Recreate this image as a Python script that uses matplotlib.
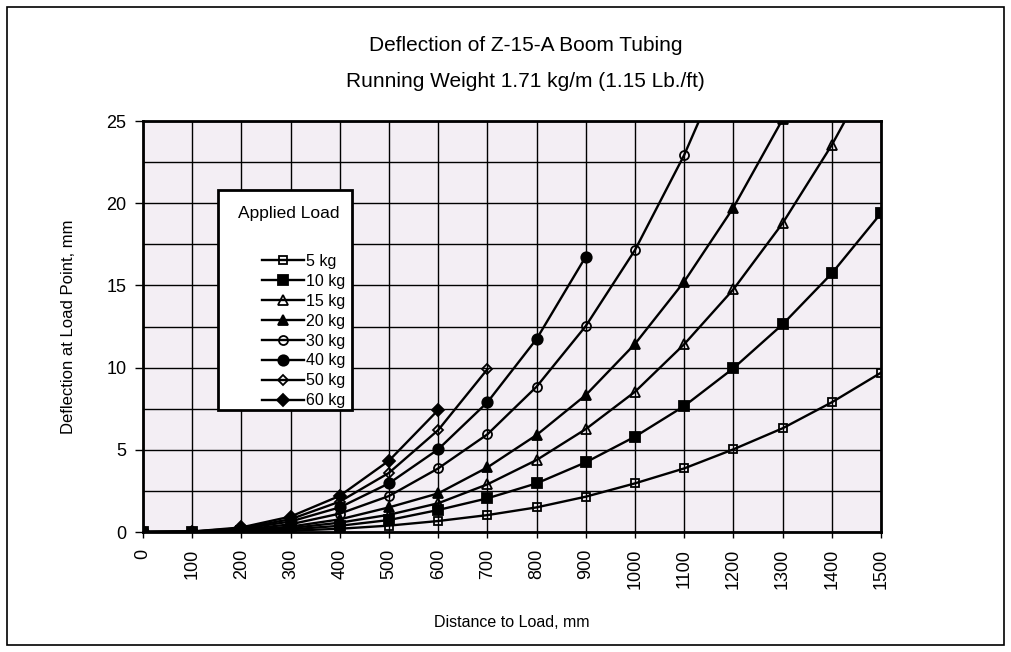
import matplotlib.pyplot as plt
import numpy as np
from matplotlib.patches import Rectangle

plt.rcParams['font.family'] = ['Liberation Sans', 'DejaVu Sans']

# Distancia (mm) e deflexao (mm) para cada carga
dist = [0, 100, 200, 300, 400, 500, 600, 700, 800, 900, 1000, 1100, 1200, 1300, 1400, 1500]

d_5kg = [0, 0.00, 0.02, 0.08, 0.20, 0.39, 0.67, 1.03, 1.50, 2.15, 2.96, 3.87, 5.03, 6.31, 7.89, 9.69]
d_10kg = [0, 0.01, 0.05, 0.16, 0.38, 0.73, 1.34, 2.05, 2.96, 4.24, 5.80, 7.66, 9.96, 12.63, 15.73, 19.39]
d_15kg = [0, 0.01, 0.07, 0.24, 0.57, 1.05, 1.75, 2.90, 4.38, 6.26, 8.53, 11.42, 14.76, 18.78, 23.54, 29.0]
d_20kg = [0, 0.01, 0.10, 0.33, 0.77, 1.50, 2.35, 3.93, 5.90, 8.33, 11.44, 15.23, 19.73, 25.1, 31.3]
d_30kg = [0, 0.02, 0.14, 0.47, 1.12, 2.19, 3.87, 5.94, 8.84, 12.53, 17.15, 22.93, 29.8]
d_40kg = [0, 0.02, 0.19, 0.64, 1.50, 2.96, 5.03, 7.89, 11.74, 16.75]
d_50kg = [0, 0.03, 0.23, 0.78, 1.85, 3.60, 6.20, 9.90]
d_60kg = [0, 0.03, 0.28, 0.94, 2.20, 4.34, 7.42]

labels = ['5 kg', '10 kg', '15 kg', '20 kg', '30 kg', '40 kg', '50 kg', '60 kg']
series = [d_5kg, d_10kg, d_15kg, d_20kg, d_30kg, d_40kg, d_50kg, d_60kg]
markers = ['s', 's', '^', '^', 'o', 'o', 'D', 'D']
filled = [False, True, False, True, False, True, False, True]
msizes = [6, 6.5, 7, 7.5, 6.5, 7.5, 5.5, 6.5]

fig = plt.figure(figsize=(10.11, 6.52), dpi=100)
ax = fig.add_axes([0.1414, 0.1840, 0.7300, 0.6304])
ax.set_facecolor('#F3EEF4')

for d, lab, m, f, ms in zip(series, labels, markers, filled, msizes):
    ax.plot(dist[:len(d)], d, color='black', lw=1.7, marker=m, ms=ms,
            mfc='black' if f else 'none', mec='black', mew=1.3, label=lab, zorder=3)

ax.set_xlim(0, 1500)
ax.set_ylim(0, 25)
ax.set_xticks(np.arange(0, 1501, 100))
ax.set_yticks(np.arange(0, 26, 5))
ax.set_yticks(np.arange(2.5, 25, 5), minor=True)
ax.grid(True, which='both', color='black', lw=1.0, zorder=1)
ax.set_axisbelow(True)
ax.tick_params(axis='x', direction='out', length=4, width=1, labelsize=13, labelrotation=90, pad=8)
ax.tick_params(axis='y', direction='out', length=6, width=1, labelsize=13, pad=6)
ax.tick_params(axis='y', which='minor', length=0)
for s in ax.spines.values():
    s.set_linewidth(2)

ax.set_xlabel('Distance to Load, mm', fontsize=11.5, labelpad=19)
ax.set_ylabel('Deflection at Load Point, mm', fontsize=12, labelpad=22)

fig.text(0.52, 0.922, 'Deflection of Z-15-A Boom Tubing', ha='center', va='baseline', fontsize=15)
fig.text(0.52, 0.867, 'Running Weight 1.71 kg/m (1.15 Lb./ft)', ha='center', va='baseline', fontsize=15)

# caixa da legenda desenhada a parte
ax.add_patch(Rectangle((0.1016, 0.2968), 0.1816, 0.5353, transform=ax.transAxes,
                       facecolor='white', edgecolor='black', lw=2, zorder=4, clip_on=False))
ax.text(0.1978, 0.776, 'Applied Load', transform=ax.transAxes, ha='center', va='center',
        fontsize=12.5, zorder=6)
leg = ax.legend(loc='center', bbox_to_anchor=(0.2183, 0.489), frameon=False,
                fontsize=11.5, handlelength=2.6, handletextpad=0.15, labelspacing=0.31,
                borderpad=0)
leg.set_zorder(5)

fig.patches.append(Rectangle((0.007, 0.011), 0.986, 0.978, transform=fig.transFigure,
                             fill=False, edgecolor='black', lw=1.2))

fig.savefig('out.png', dpi=100)
